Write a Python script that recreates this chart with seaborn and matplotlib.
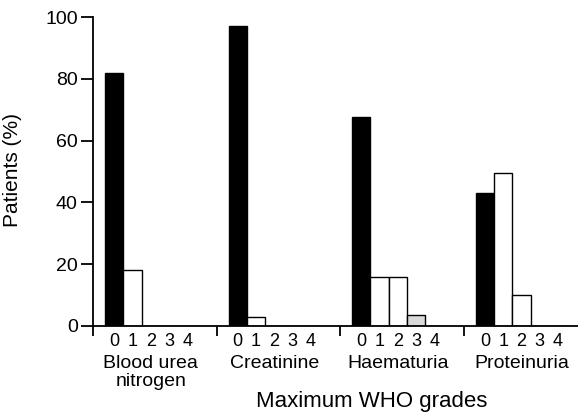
import matplotlib

matplotlib.use("Agg")
import matplotlib.pyplot as plt
import pandas as pd
import seaborn as sns

# Values (% of patients per maximum WHO grade)
groups = ["Blood urea\nnitrogen", "Creatinine", "Haematuria", "Proteinuria"]
grades = [0, 1, 2, 3, 4]
bun = [82, 18, 0, 0, 0]
creatinine = [97, 3, 0, 0, 0]
haematuria = [67.5, 16, 16, 3.5, 0]
proteinuria = [43, 49.5, 10, 0, 0]

GROUP_W = 6.75   # group spacing in bar widths
OFFSET = 0.66    # gap between group separator and first bar

rows = []
for gi, vals in enumerate([bun, creatinine, haematuria, proteinuria]):
    for grade, v in zip(grades, vals):
        rows.append({"pos": gi * GROUP_W + OFFSET + grade + 0.5,
                     "grade": grade, "pct": v, "group": gi})
df = pd.DataFrame(rows)

sns.set_style("ticks")
plt.rcParams["font.family"] = ["Liberation Sans", "DejaVu Sans"]
plt.rcParams.update({
    "text.color": "black",
    "axes.labelcolor": "black",
    "axes.edgecolor": "black",
    "xtick.color": "black",
    "ytick.color": "black",
})

fig = plt.figure(figsize=(5.78, 4.12), dpi=100)
ax = fig.add_axes([93 / 578, 1 - 326 / 412, 1 - 93 / 578, (326 - 17) / 412])

palette = {0: "black", 1: "white", 2: "white", 3: "#d9d9d9", 4: "white"}
sns.barplot(data=df, x="pos", y="pct", hue="grade", palette=palette,
            native_scale=True, dodge=False, width=1.0, edgecolor="black",
            linewidth=1.0, legend=False, ax=ax)

ax.set_xlim(0, 26.5)
ax.set_ylim(0, 100)
ax.set_yticks([0, 20, 40, 60, 80, 100])
ax.tick_params(axis="y", labelsize=14, length=9, width=1.3, pad=2,
               direction="out")
ax.set_ylabel("Patients (%)", fontsize=15)
ax.yaxis.set_label_coords(-0.146, 0.505)

ax.set_xticks(df["pos"])
ax.set_xticklabels([str(g) for g in df["grade"]], fontsize=13)
ax.tick_params(axis="x", which="major", length=0, pad=5)
ax.set_xticks([i * GROUP_W for i in range(len(groups))], minor=True)
ax.tick_params(axis="x", which="minor", length=7, width=1.3, direction="out")
ax.set_xlabel("")

for gi, name in enumerate(groups):
    center = gi * GROUP_W + OFFSET + 2.5
    ax.text(center, -9.5, name, ha="center", va="top", fontsize=14,
            linespacing=1.05, transform=ax.transData)

fig.text(372 / 578, 1 - 402 / 412, "Maximum WHO grades", ha="center",
         va="center", fontsize=16)

for s in ["top", "right"]:
    ax.spines[s].set_visible(False)
ax.spines["left"].set_linewidth(1.3)
ax.spines["bottom"].set_linewidth(1.3)

fig.savefig("out.png", dpi=100)
